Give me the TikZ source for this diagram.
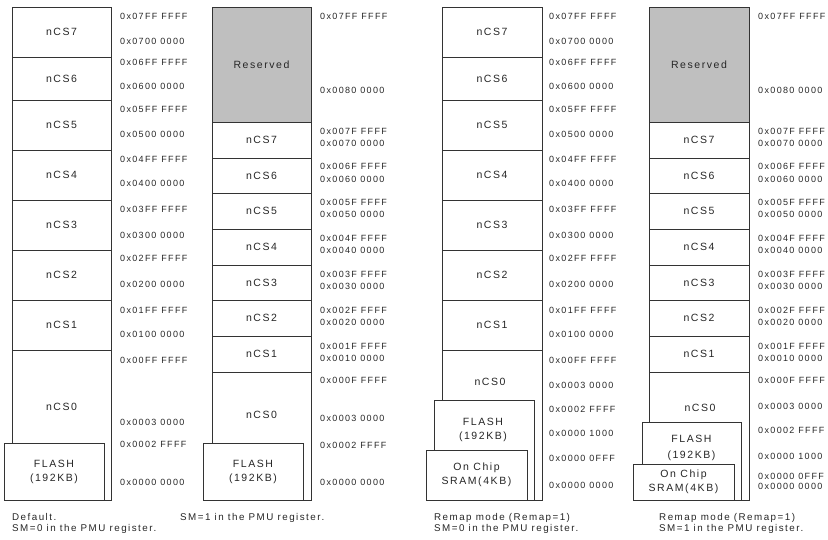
\documentclass[tikz,border=0pt]{standalone}
\usepackage{fontspec}
\setmainfont{Liberation Sans}[LetterSpace=15]

\begin{document}
\begin{tikzpicture}[
    x=1pt, y=-1pt,
    region/.style={rectangle, draw=black!80, line width=0.8pt, fill=white, inner sep=0pt, outer sep=0pt, align=center, text=black!85, font=\fontsize{10.5}{14}\selectfont},
    reserved/.style={region, fill=black!25},
    lbl/.style={inner sep=0pt, align=center, text=black!85, font=\fontsize{10.5}{14}\selectfont},
    addr/.style={anchor=west, inner sep=0pt, text=black!85, font=\fontsize{9}{11}\selectfont},
    note/.style={anchor=north west, inner sep=0pt, align=left, text=black!85, font=\fontsize{9.8}{11}\selectfont}
]
\useasboundingbox (0,0) rectangle (828,540);

% Map 1: default, SM=0
\node[region, minimum width=99pt, minimum height=50pt] (dcs7) at (61.5,32) {nCS7};
\node[region, minimum width=99pt, minimum height=43pt] (dcs6) at (61.5,78.5) {nCS6};
\node[region, minimum width=99pt, minimum height=50pt] (dcs5) at (61.5,125) {nCS5};
\node[region, minimum width=99pt, minimum height=50pt] (dcs4) at (61.5,175) {nCS4};
\node[region, minimum width=99pt, minimum height=50pt] (dcs3) at (61.5,225) {nCS3};
\node[region, minimum width=99pt, minimum height=50pt] (dcs2) at (61.5,275) {nCS2};
\node[region, minimum width=99pt, minimum height=50pt] (dcs1) at (61.5,325) {nCS1};
\node[region, minimum width=99pt, minimum height=150pt] (dcs0) at (61.5,425) {};
\node[lbl] (dcs0t) at (61.5,407) {nCS0};
\node[region, minimum width=100pt, minimum height=57pt] (dflash) at (54,471.5) {FLASH\\(192KB)};

\node[addr] (da1) at (120,16) {0x07FF FFFF};
\node[addr] (da2) at (120,41) {0x0700 0000};
\node[addr] (da3) at (120,62) {0x06FF FFFF};
\node[addr] (da4) at (120,86) {0x0600 0000};
\node[addr] (da5) at (120,109) {0x05FF FFFF};
\node[addr] (da6) at (120,134) {0x0500 0000};
\node[addr] (da7) at (120,159) {0x04FF FFFF};
\node[addr] (da8) at (120,183) {0x0400 0000};
\node[addr] (da9) at (120,209) {0x03FF FFFF};
\node[addr] (da10) at (120,235) {0x0300 0000};
\node[addr] (da11) at (120,258) {0x02FF FFFF};
\node[addr] (da12) at (120,284) {0x0200 0000};
\node[addr] (da13) at (120,310) {0x01FF FFFF};
\node[addr] (da14) at (120,334) {0x0100 0000};
\node[addr] (da15) at (120,360) {0x00FF FFFF};
\node[addr] (da16) at (120,422) {0x0003 0000};
\node[addr] (da17) at (120,444) {0x0002 FFFF};
\node[addr] (da18) at (120,482) {0x0000 0000};

\node[note] (dnote) at (12,513) {Default.\\SM=0 in the PMU register.};

% Map 2: SM=1
\node[reserved, minimum width=99pt, minimum height=115pt] (sres) at (261.5,64.5) {Reserved};
\node[region, minimum width=99pt, minimum height=36pt] (scs7) at (261.5,140) {nCS7};
\node[region, minimum width=99pt, minimum height=35pt] (scs6) at (261.5,175.5) {nCS6};
\node[region, minimum width=99pt, minimum height=36pt] (scs5) at (261.5,211) {nCS5};
\node[region, minimum width=99pt, minimum height=36pt] (scs4) at (261.5,247) {nCS4};
\node[region, minimum width=99pt, minimum height=35pt] (scs3) at (261.5,282.5) {nCS3};
\node[region, minimum width=99pt, minimum height=36pt] (scs2) at (261.5,318) {nCS2};
\node[region, minimum width=99pt, minimum height=36pt] (scs1) at (261.5,354) {nCS1};
\node[region, minimum width=99pt, minimum height=128pt] (scs0) at (261.5,436) {};
\node[lbl] (scs0t) at (261.5,415) {nCS0};
\node[region, minimum width=100pt, minimum height=57pt] (sflash) at (253,471.5) {FLASH\\(192KB)};

\node[addr] (sa1) at (320,16) {0x07FF FFFF};
\node[addr] (sa2) at (320,90) {0x0080 0000};
\node[addr] (sa3) at (320,131) {0x007F FFFF};
\node[addr] (sa4) at (320,143) {0x0070 0000};
\node[addr] (sa5) at (320,166) {0x006F FFFF};
\node[addr] (sa6) at (320,179) {0x0060 0000};
\node[addr] (sa7) at (320,202) {0x005F FFFF};
\node[addr] (sa8) at (320,214) {0x0050 0000};
\node[addr] (sa9) at (320,238) {0x004F FFFF};
\node[addr] (sa10) at (320,250) {0x0040 0000};
\node[addr] (sa11) at (320,274) {0x003F FFFF};
\node[addr] (sa12) at (320,286) {0x0030 0000};
\node[addr] (sa13) at (320,310) {0x002F FFFF};
\node[addr] (sa14) at (320,322) {0x0020 0000};
\node[addr] (sa15) at (320,346) {0x001F FFFF};
\node[addr] (sa16) at (320,358) {0x0010 0000};
\node[addr] (sa17) at (320,380) {0x000F FFFF};
\node[addr] (sa18) at (320,418) {0x0003 0000};
\node[addr] (sa19) at (320,445) {0x0002 FFFF};
\node[addr] (sa20) at (320,482) {0x0000 0000};

\node[note] (snote) at (180,513) {SM=1 in the PMU register.};

% Map 3: remap, SM=0
\node[region, minimum width=100pt, minimum height=50pt] (rcs7) at (492,32) {nCS7};
\node[region, minimum width=100pt, minimum height=43pt] (rcs6) at (492,78.5) {nCS6};
\node[region, minimum width=100pt, minimum height=50pt] (rcs5) at (492,125) {nCS5};
\node[region, minimum width=100pt, minimum height=50pt] (rcs4) at (492,175) {nCS4};
\node[region, minimum width=100pt, minimum height=50pt] (rcs3) at (492,225) {nCS3};
\node[region, minimum width=100pt, minimum height=50pt] (rcs2) at (492,275) {nCS2};
\node[region, minimum width=100pt, minimum height=50pt] (rcs1) at (492,325) {nCS1};
\node[region, minimum width=100pt, minimum height=150pt] (rcs0) at (492,425) {};
\node[lbl] (rcs0t) at (490,382) {nCS0};
\node[region, minimum width=100pt, minimum height=100pt] (rflash) at (484,450) {};
\node[lbl] (rflasht) at (483,429.5) {FLASH\\(192KB)};
\node[region, minimum width=101pt, minimum height=50pt] (rsram) at (476.5,475) {On Chip\\SRAM(4KB)};

\node[addr] (ra1) at (549,16) {0x07FF FFFF};
\node[addr] (ra2) at (549,41) {0x0700 0000};
\node[addr] (ra3) at (549,62) {0x06FF FFFF};
\node[addr] (ra4) at (549,86) {0x0600 0000};
\node[addr] (ra5) at (549,109) {0x05FF FFFF};
\node[addr] (ra6) at (549,134) {0x0500 0000};
\node[addr] (ra7) at (549,159) {0x04FF FFFF};
\node[addr] (ra8) at (549,183) {0x0400 0000};
\node[addr] (ra9) at (549,209) {0x03FF FFFF};
\node[addr] (ra10) at (549,235) {0x0300 0000};
\node[addr] (ra11) at (549,258) {0x02FF FFFF};
\node[addr] (ra12) at (549,284) {0x0200 0000};
\node[addr] (ra13) at (549,310) {0x01FF FFFF};
\node[addr] (ra14) at (549,334) {0x0100 0000};
\node[addr] (ra15) at (549,360) {0x00FF FFFF};
\node[addr] (ra16) at (549,385) {0x0003 0000};
\node[addr] (ra17) at (549,409) {0x0002 FFFF};
\node[addr] (ra18) at (549,433) {0x0000 1000};
\node[addr] (ra19) at (549,458) {0x0000 0FFF};
\node[addr] (ra20) at (549,485) {0x0000 0000};

\node[note] (rnote) at (434,513) {Remap mode (Remap=1)\\SM=0 in the PMU register.};

% Map 4: remap, SM=1
\node[reserved, minimum width=100pt, minimum height=115pt] (qres) at (699,64.5) {Reserved};
\node[region, minimum width=100pt, minimum height=36pt] (qcs7) at (699,140) {nCS7};
\node[region, minimum width=100pt, minimum height=35pt] (qcs6) at (699,175.5) {nCS6};
\node[region, minimum width=100pt, minimum height=36pt] (qcs5) at (699,211) {nCS5};
\node[region, minimum width=100pt, minimum height=36pt] (qcs4) at (699,247) {nCS4};
\node[region, minimum width=100pt, minimum height=35pt] (qcs3) at (699,282.5) {nCS3};
\node[region, minimum width=100pt, minimum height=36pt] (qcs2) at (699,318) {nCS2};
\node[region, minimum width=100pt, minimum height=36pt] (qcs1) at (699,354) {nCS1};
\node[region, minimum width=100pt, minimum height=128pt] (qcs0) at (699,436) {};
\node[lbl] (qcs0t) at (700,408) {nCS0};
\node[region, minimum width=99pt, minimum height=78pt] (qflash) at (691.5,461) {};
\node[lbl, font=\fontsize{10.5}{16}\selectfont] (qflasht) at (691.5,447.5) {FLASH\\(192KB)};
\node[region, minimum width=101pt, minimum height=36pt] (qsram) at (683.5,482) {On Chip\\SRAM(4KB)};

\node[addr] (qa1) at (758,16) {0x07FF FFFF};
\node[addr] (qa2) at (758,90) {0x0080 0000};
\node[addr] (qa3) at (758,131) {0x007F FFFF};
\node[addr] (qa4) at (758,143) {0x0070 0000};
\node[addr] (qa5) at (758,166) {0x006F FFFF};
\node[addr] (qa6) at (758,179) {0x0060 0000};
\node[addr] (qa7) at (758,202) {0x005F FFFF};
\node[addr] (qa8) at (758,214) {0x0050 0000};
\node[addr] (qa9) at (758,238) {0x004F FFFF};
\node[addr] (qa10) at (758,250) {0x0040 0000};
\node[addr] (qa11) at (758,274) {0x003F FFFF};
\node[addr] (qa12) at (758,286) {0x0030 0000};
\node[addr] (qa13) at (758,310) {0x002F FFFF};
\node[addr] (qa14) at (758,322) {0x0020 0000};
\node[addr] (qa15) at (758,346) {0x001F FFFF};
\node[addr] (qa16) at (758,358) {0x0010 0000};
\node[addr] (qa17) at (758,380) {0x000F FFFF};
\node[addr] (qa18) at (758,406) {0x0003 0000};
\node[addr] (qa19) at (758,430) {0x0002 FFFF};
\node[addr] (qa20) at (758,456) {0x0000 1000};
\node[addr] (qa21) at (758,476) {0x0000 0FFF};
\node[addr] (qa22) at (758,486) {0x0000 0000};

\node[note] (qnote) at (659,513) {Remap mode (Remap=1)\\SM=1 in the PMU register.};

\end{tikzpicture}
\end{document}
